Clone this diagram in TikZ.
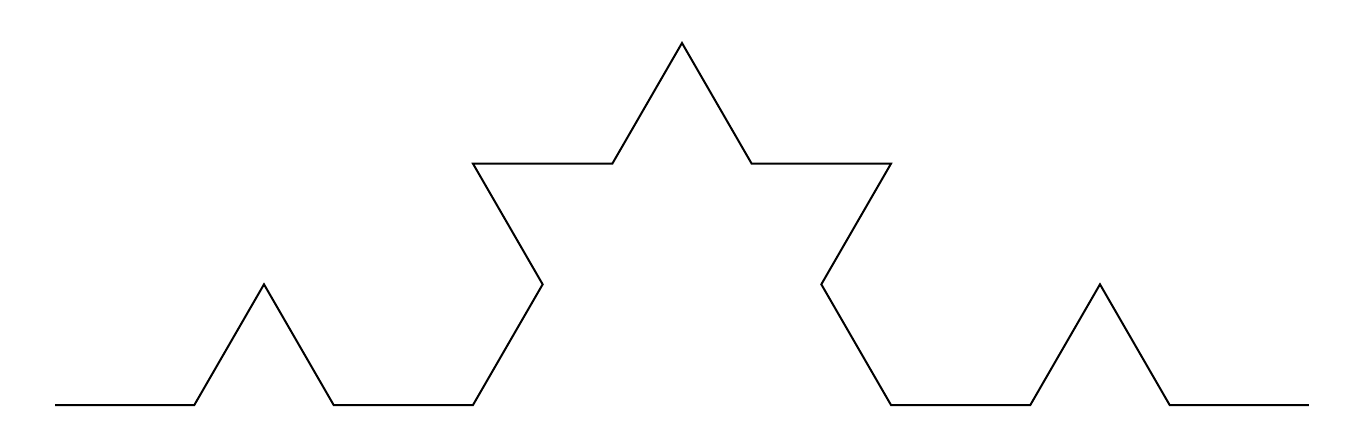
\documentclass[tikz,border=0pt]{standalone}
\usepackage{tikz}

\begin{document}
\begin{tikzpicture}[x=1pt, y=1pt]
    % Canvas
    \useasboundingbox (0,0) rectangle (1354,434);

    % Koch curve, second iteration (16 segments)
    \coordinate (start) at (55,29);
    \draw[line width=2pt, line join=miter] (start)
        \foreach \a in {0,60,-60,0, 60,120,0,60, -60,0,-120,-60, 0,60,-60,0} {
            -- ++(\a:139.33)
        };
\end{tikzpicture}
\end{document}
